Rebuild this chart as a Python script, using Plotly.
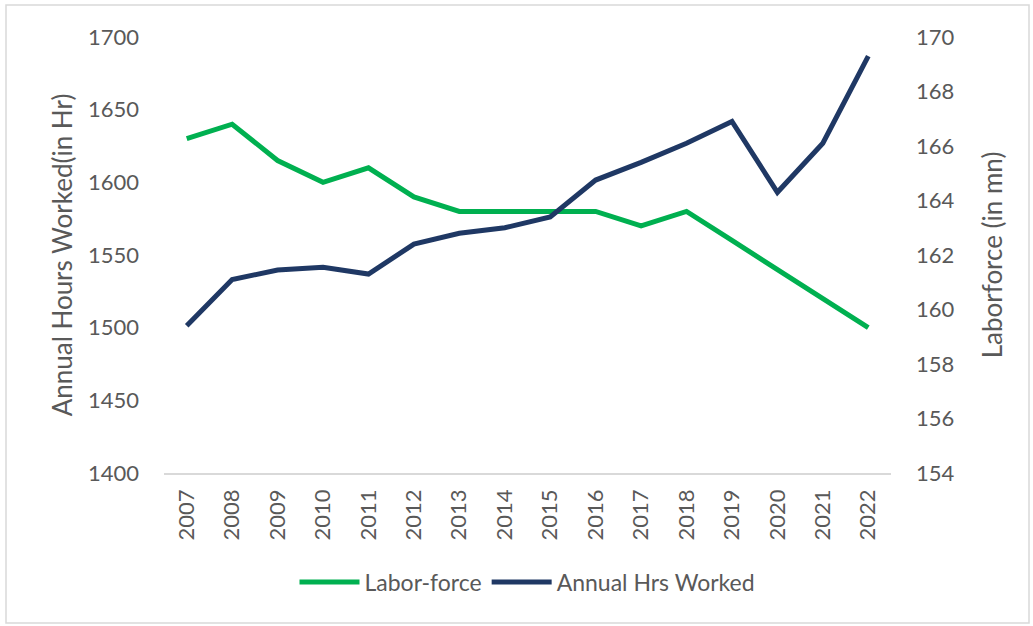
import plotly.graph_objects as go

years = [str(y) for y in range(2007, 2023)]
labor_force = [1630, 1640, 1615, 1600, 1610, 1590, 1580, 1580, 1580, 1580, 1570, 1580, 1560, 1540, 1520, 1500]
annual_hrs = [159.4, 161.1, 161.45, 161.55, 161.3, 162.4, 162.8, 163.0, 163.4, 164.75, 165.4, 166.1, 166.9, 164.3, 166.1, 169.3]

left_ticks = [1400, 1450, 1500, 1550, 1600, 1650, 1700]
right_ticks = [154, 156, 158, 160, 162, 164, 166, 168, 170]

GREEN = "#00B050"
NAVY = "#1F3864"
GRAY = "#595959"
FONT = "Lato"

fig = go.Figure()
fig.add_trace(go.Scatter(x=years, y=labor_force, name="Labor-force", mode="lines",
                         line=dict(color=GREEN, width=5), yaxis="y"))
fig.add_trace(go.Scatter(x=years, y=annual_hrs, name="Annual Hrs Worked", mode="lines",
                         line=dict(color=NAVY, width=5), yaxis="y2"))

L, R, T, B = 164, 142, 37, 153
W, H = 1033, 626
pw, ph = W - L - R, H - T - B

fig.update_layout(
    width=W, height=H,
    margin=dict(l=L, r=R, t=T, b=B),
    paper_bgcolor="white", plot_bgcolor="white",
    font=dict(family=FONT, color=GRAY, size=20),
    showlegend=True,
    legend=dict(orientation="h", x=0.5, xanchor="center", y=-0.25, yanchor="middle",
                font=dict(size=23, color=GRAY), traceorder="normal", itemwidth=60),
    xaxis=dict(type="category", range=[-0.5, 15.5], tickangle=-90, showgrid=False,
               showline=True, linecolor="#D9D9D9", linewidth=1.5, ticks="",
               tickfont=dict(size=22, color=GRAY), ticklabelstandoff=6),
    yaxis=dict(range=[1400, 1700], tickvals=left_ticks, showgrid=False, zeroline=False,
               showline=False, ticks="", tickfont=dict(size=22, color=GRAY),
               ticklabelstandoff=24,
               title=dict(text="Annual Hours Worked(in Hr)", font=dict(size=26, color=GRAY), standoff=7)),
    yaxis2=dict(range=[154, 170], tickvals=right_ticks, overlaying="y", side="right",
                showgrid=False, zeroline=False, showline=False, ticks="",
                tickfont=dict(size=22, color=GRAY), ticklabelstandoff=24,
                title=dict(text="Laborforce (in mn)", font=dict(size=26, color=GRAY), standoff=30)),
)

fig.add_shape(type="rect", xref="paper", yref="paper",
              x0=(6 - L) / pw, x1=(1029 - L) / pw,
              y0=-(623 - (T + ph)) / ph, y1=(T + ph - 5) / ph,
              line=dict(color="#D9D9D9", width=1.5), fillcolor="rgba(0,0,0,0)", layer="below")

fig.write_html("out.html")
